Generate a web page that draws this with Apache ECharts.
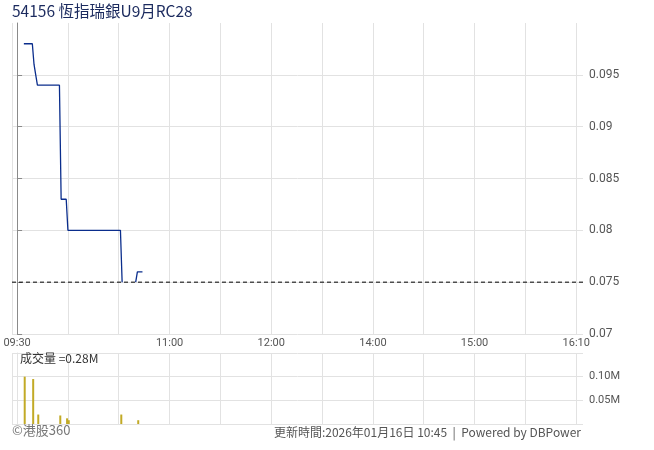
<!DOCTYPE html>
<html>
<head>
<meta charset="utf-8">
<script src="https://cdn.jsdelivr.net/npm/echarts@6/dist/echarts.min.js"></script>
<style>
html,body{margin:0;padding:0;background:#fff}
#chart{width:654px;height:450px}
</style>
</head>
<body>
<div id="chart"></div>
<script>
// 價格 (每分鐘)
var priceTimes = ['09:34','09:39','09:40','09:41','09:42','09:55','09:56','09:59','10:00','10:31','10:32','10:36','10:40','10:41','10:44'];
var priceValues = [0.098,0.098,0.096,0.095,0.094,0.094,0.083,0.083,0.080,0.080,0.075,null,0.075,0.076,0.076];
var prevClose = 0.075;

// 成交量 (M)
var volTimes = ['09:34','09:39','09:42','09:55','09:59','10:00','10:31','10:41'];
var volValues = [0.10,0.095,0.02,0.018,0.012,0.008,0.02,0.008];

// x軸
var gridTimes = ['09:30','10:00','10:30','11:00','11:30','12:00','13:30','14:00','14:30','15:00','15:30','16:00'];
var labelTimes = ['09:30','11:00','12:00','14:00','15:00','16:00'];
var labelTexts = ['09:30','11:00','12:00','14:00','15:00','16:10'];

// 交易分鐘 (午休不計)
function slot(t) {
    var p = t.split(':');
    var m = (+p[0]) * 60 + (+p[1]) - 570;
    if (m > 180) m -= 60;
    return m;
}

var xMin = -3, xMax = 334;
var gridSlots = [xMin].concat(gridTimes.map(slot));
var labelSlots = labelTimes.map(slot);

var priceData = priceTimes.map(function (t, i) { return [slot(t), priceValues[i]]; });
var volData = volTimes.map(function (t, i) { return [slot(t) + 0.5, volValues[i]]; });

var gridColor = '#e2e2e2';
var labelFont = 'Roboto, Liberation Sans, sans-serif';
var cjkFont = 'Noto Sans CJK TC, sans-serif';

var myChart = echarts.init(document.getElementById('chart'));
myChart.setOption({
    animation: false,
    title: [{
        text: '54156 恆指瑞銀U9月RC28',
        left: 12, top: 3, padding: 0,
        textStyle: {fontSize: 15.5, fontWeight: 'normal', color: '#1b2a5e', fontFamily: cjkFont}
    }, {
        text: '成交量 =0.28M',
        left: 20, top: 352, padding: 0,
        textStyle: {fontSize: 12, fontWeight: 'normal', color: '#333', fontFamily: cjkFont}
    }, {
        text: '©港股360',
        left: 12, top: 424, padding: 0,
        textStyle: {fontSize: 13, fontWeight: 'normal', color: '#777', fontFamily: cjkFont}
    }, {
        text: '更新時間:2026年01月16日 10:45  |  Powered by DBPower',
        right: 73, top: 426, padding: 0,
        textStyle: {fontSize: 12, fontWeight: 'normal', color: '#555', fontFamily: cjkFont}
    }],
    grid: [
        {left: 12, right: 71, top: 23, bottom: 116},
        {left: 12, right: 71, top: 353, bottom: 26}
    ],
    xAxis: [{
        gridIndex: 0, type: 'value', min: xMin, max: xMax,
        axisLine: {show: false},
        axisTick: {show: false, customValues: gridSlots},
        splitLine: {show: true, lineStyle: {color: gridColor}},
        axisLabel: {
            customValues: labelSlots, color: '#555', fontSize: 11, margin: 4, fontFamily: labelFont,
            formatter: function (v) { return labelTexts[labelSlots.indexOf(v)]; }
        }
    }, {
        gridIndex: 1, type: 'value', min: xMin, max: xMax,
        axisLine: {show: false},
        axisTick: {show: false, customValues: gridSlots},
        splitLine: {show: true, lineStyle: {color: gridColor}},
        axisLabel: {show: false}
    }],
    yAxis: [{
        gridIndex: 0, type: 'value', position: 'right',
        min: 0.07, max: 0.1, interval: 0.005,
        axisLine: {show: true, lineStyle: {color: '#8a8a8a'}},
        axisTick: {show: true, length: 5, lineStyle: {color: '#8a8a8a'}},
        axisLabel: {color: '#555', fontSize: 12, margin: 6, fontFamily: labelFont, showMaxLabel: false},
        splitLine: {show: true, showMaxLine: false, lineStyle: {color: gridColor}}
    }, {
        gridIndex: 1, type: 'value', position: 'right',
        min: 0, max: 0.15, interval: 0.05,
        axisLine: {show: true, lineStyle: {color: gridColor}},
        axisTick: {show: false},
        axisLabel: {
            color: '#555', fontSize: 11, margin: 6, fontFamily: labelFont,
            showMinLabel: false, showMaxLabel: false,
            formatter: function (v) { return v.toFixed(2) + 'M'; }
        },
        splitLine: {show: true, lineStyle: {color: gridColor}}
    }],
    series: [{
        name: '前收市價',
        type: 'line',
        xAxisIndex: 0, yAxisIndex: 0,
        data: [[xMin, prevClose], [xMax, prevClose]],
        showSymbol: false,
        silent: true,
        z: 3,
        lineStyle: {color: '#000', type: [4, 3], width: 1}
    }, {
        name: '價格',
        type: 'line',
        xAxisIndex: 0, yAxisIndex: 0,
        data: priceData,
        showSymbol: false,
        connectNulls: false,
        z: 2,
        lineStyle: {color: '#0a2d8c', width: 1.3}
    }, {
        name: '成交量',
        type: 'bar',
        xAxisIndex: 1, yAxisIndex: 1,
        data: volData,
        barWidth: 2,
        itemStyle: {color: '#c2aa26'}
    }]
});
</script>
</body>
</html>
